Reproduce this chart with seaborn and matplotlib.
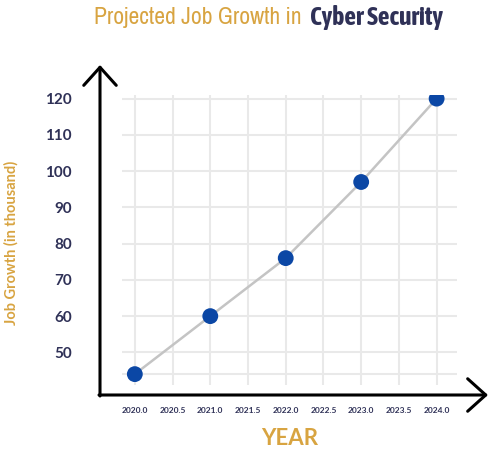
import numpy as np
import pandas as pd
import matplotlib
matplotlib.use('Agg')
import matplotlib.pyplot as plt
from matplotlib import font_manager
import seaborn as sns

# values
years = [2020, 2021, 2022, 2023, 2024]
growth = [44, 60, 76, 97, 120]
x_ticks = [2020.0, 2020.5, 2021.0, 2021.5, 2022.0, 2022.5, 2023.0, 2023.5, 2024.0]
y_ticks = [50, 60, 70, 80, 90, 100, 110, 120]

GOLD = '#d8a441'
NAVY = '#2f3157'
BLUE = '#0b47a5'

sns.set_style('white')
plt.rcParams['font.family'] = ['Lato', 'DejaVu Sans']

# look for a narrow family for the title (prefer one that has a bold face)
fonts = font_manager.fontManager.ttflist
narrow = sorted({f.name for f in fonts if 'Narrow' in f.name or 'Condensed' in f.name})
narrow_bold = sorted({f.name for f in fonts
                      if ('Narrow' in f.name or 'Condensed' in f.name)
                      and f.weight in ('bold', 700, 800, 900, 'heavy', 'black', 'extra bold')})
light_family = narrow[:1] + ['Roboto', 'DejaVu Sans']
bold_family = (narrow_bold or narrow)[:1] + ['Roboto', 'DejaVu Sans']
title_size = 17 if narrow else 14

df = pd.DataFrame({'year': years, 'growth': growth})

fig = plt.figure(figsize=(5, 4.5), dpi=100)
W, H = 500, 450
ax = fig.add_axes([122 / W, 1 - 385 / H, (457 - 122) / W, (385 - 95) / H])

sns.lineplot(data=df, x='year', y='growth', ax=ax, color='#c4c4c4', lw=1.8, zorder=2)
sns.scatterplot(data=df, x='year', y='growth', ax=ax, color=BLUE, s=130,
                edgecolor='none', zorder=3)

ax.set_xlim(2019.83, 2024.27)
ax.set_ylim(41.0, 121.0)

ax.set_xticks(x_ticks)
ax.set_xticklabels([f'{t:.1f}' for t in x_ticks])
ax.set_yticks(y_ticks)
ax.set_yticks([44], minor=True)

ax.grid(True, which='both', color='#e9e9e9', lw=1.5, zorder=0)
ax.set_axisbelow(True)

for s in ['top', 'right', 'left', 'bottom']:
    ax.spines[s].set_visible(False)
ax.spines['left'].set_position(('outward', 16))
ax.spines['bottom'].set_position(('outward', 7))

ax.tick_params(axis='y', which='major', direction='inout', length=10, width=1.8,
               color='black', labelsize=11, labelcolor=NAVY, pad=15)
ax.tick_params(axis='y', which='minor', length=0)
ax.tick_params(axis='x', direction='inout', length=10, width=1.8,
               color='black', labelsize=6, labelcolor=NAVY, pad=4)
for lab in ax.get_yticklabels() + ax.get_xticklabels():
    lab.set_fontweight('bold')

# axis arrows
arrow = dict(arrowstyle='->,head_width=0.45,head_length=0.5', lw=2.2, color='black',
             mutation_scale=26, shrinkA=0, shrinkB=0)
ax.annotate('', xy=(100 / W, 1 - 65 / H), xytext=(100 / W, 1 - 396 / H),
            xycoords='figure fraction', textcoords='figure fraction', arrowprops=arrow)
ax.annotate('', xy=(488 / W, 1 - 395 / H), xytext=(99 / W, 1 - 395 / H),
            xycoords='figure fraction', textcoords='figure fraction', arrowprops=arrow)

ax.set_xlabel('YEAR', color=GOLD, fontsize=16, fontweight='bold', labelpad=10)
ax.set_ylabel('Job Growth (in thousand)', color=GOLD, fontsize=10.5, fontweight='bold')
ax.yaxis.set_label_coords(-0.31, 0.49)

fig.text(301 / W, 1 - 17 / H, 'Projected Job Growth in', ha='right', va='center',
         color=GOLD, fontsize=title_size, family=light_family)
fig.text(310 / W, 1 - 17 / H, 'Cyber Security', ha='left', va='center',
         color=NAVY, fontsize=title_size + 1.5, fontweight='bold', family=bold_family)

fig.savefig('out.png', dpi=100)
